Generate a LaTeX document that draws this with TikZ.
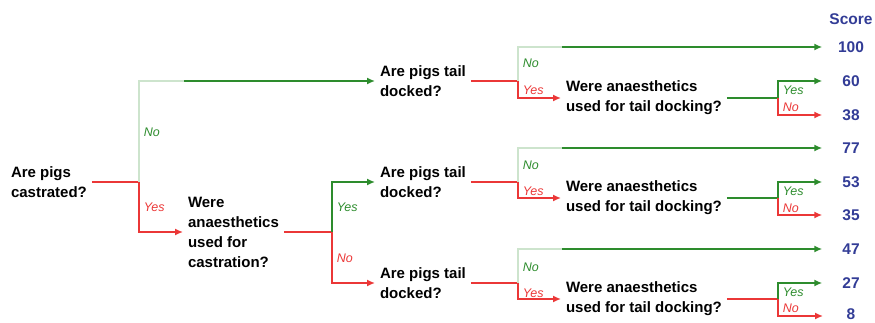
\documentclass[tikz,border=0pt]{standalone}
\usepackage{fontspec}
\setmainfont{Liberation Sans}
\usetikzlibrary{arrows.meta,positioning}
\definecolor{yesgreen}{RGB}{45,140,45}
\definecolor{nored}{RGB}{235,55,55}
\definecolor{faintgreen}{RGB}{205,228,205}
\definecolor{scoreblue}{RGB}{50,60,150}
\tikzset{question/.style={
    anchor=west,align=left,inner sep=2pt,outer sep=3pt,
    font=\fontsize{15}{20}\selectfont\bfseries}}
\tikzset{score/.style={
    minimum width=56pt,inner sep=0pt,text=scoreblue,
    font=\fontsize{15.5}{18}\selectfont\bfseries}}
\tikzset{greentext/.style={anchor=west,inner sep=0pt,text=yesgreen,font=\fontsize{12.5}{14}\selectfont\itshape},
    redtext/.style={anchor=west,inner sep=0pt,text=nored,font=\fontsize{12.5}{14}\selectfont\itshape}}
\tikzset{yesline/.style={draw=yesgreen},noline/.style={draw=nored},faintline/.style={draw=faintgreen},
    arrowed/.style={-{Latex[length=8pt,width=7pt]}}}
\tikzset{every picture/.style={line width=1.5pt}}
\begin{document}
\begin{tikzpicture}[x=1pt,y=-1pt]
\useasboundingbox (0,0) rectangle (875,322);

  \node (castrated)  [question] at (6,182)   {Are pigs\\castrated?};
  \node (castanaes)  [question] at (183,232) {Were\\anaesthetics\\used for\\castration?};
  \node (docked1)    [question] at (375,81)  {Are pigs tail\\docked?};
  \node (docked2)    [question] at (375,182) {Are pigs tail\\docked?};
  \node (docked3)    [question] at (375,283) {Are pigs tail\\docked?};
  \node (dockanaes1) [question] at (561,98)  {Were anaesthetics\\used for tail docking?};
  \node (dockanaes2) [question] at (561,198) {Were anaesthetics\\used for tail docking?};
  \node (dockanaes3) [question] at (561,299) {Were anaesthetics\\used for tail docking?};

  \node (scorehead) [score] at (851,19)  {Score};
  \node (s100)      [score] at (851,47)  {100};
  \node (s60)       [score] at (851,81)  {60};
  \node (s38)       [score] at (851,115) {38};
  \node (s77)       [score] at (851,148) {77};
  \node (s53)       [score] at (851,182) {53};
  \node (s35)       [score] at (851,215) {35};
  \node (s47)       [score] at (851,249) {47};
  \node (s27)       [score] at (851,283) {27};
  \node (s8)        [score] at (851,314) {8};

  \coordinate (j1) at (139,182); \coordinate (k1) at (184,81);
  \coordinate (j2) at (332,232);
  \coordinate (j3) at (518,81);  \coordinate (k3) at (562,47);
  \coordinate (j4) at (518,182); \coordinate (k4) at (562,148);
  \coordinate (j5) at (518,283); \coordinate (k5) at (562,249);
  \coordinate (j6) at (778,98);
  \coordinate (j7) at (778,198);
  \coordinate (j8) at (778,299); \coordinate (e8) at (823,316);

\draw [noline] (castrated) -- (j1);
\draw [faintline] (j1) |- (k1);
\draw [yesline,arrowed] (k1) -- (docked1);
\draw [noline,arrowed] (j1) |- (castanaes);

\draw [noline] (castanaes) -- (j2);
\draw [yesline,arrowed] (j2) |- (docked2);
\draw [noline,arrowed] (j2) |- (docked3);

\draw [noline] (docked1) -- (j3);
\draw [faintline] (j3) |- (k3);
\draw [yesline,arrowed] (k3) -- (s100);
\draw [noline,arrowed] (j3) |- (dockanaes1);

\draw [noline] (docked2) -- (j4);
\draw [faintline] (j4) |- (k4);
\draw [yesline,arrowed] (k4) -- (s77);
\draw [noline,arrowed] (j4) |- (dockanaes2);

\draw [noline] (docked3) -- (j5);
\draw [faintline] (j5) |- (k5);
\draw [yesline,arrowed] (k5) -- (s47);
\draw [noline,arrowed] (j5) |- (dockanaes3);

\draw [yesline] (dockanaes1) -- (j6);
\draw [yesline,arrowed] (j6) |- (s60);
\draw [noline,arrowed] (j6) |- (s38);

\draw [yesline] (dockanaes2) -- (j7);
\draw [yesline,arrowed] (j7) |- (s53);
\draw [noline,arrowed] (j7) |- (s35);

\draw [noline] (dockanaes3) -- (j8);
\draw [yesline,arrowed] (j8) |- (s27);
\draw [noline,arrowed] (j8) |- (e8);

  \node (no1)  [greentext] at (143,132) {No};
  \node (yes1) [redtext]   at (143,207) {Yes};
  \node (yes2) [greentext] at (336,207) {Yes};
  \node (no2)  [redtext]   at (336,258) {No};
  \node (no3)  [greentext] at (522,63)  {No};
  \node (yes3) [redtext]   at (522,90)  {Yes};
  \node (no4)  [greentext] at (522,165) {No};
  \node (yes4) [redtext]   at (522,191) {Yes};
  \node (no5)  [greentext] at (522,267) {No};
  \node (yes5) [redtext]   at (522,293) {Yes};
  \node (yes6) [greentext] at (782,90)  {Yes};
  \node (no6)  [redtext]   at (782,107) {No};
  \node (yes7) [greentext] at (782,191) {Yes};
  \node (no7)  [redtext]   at (782,208) {No};
  \node (yes8) [greentext] at (782,292) {Yes};
  \node (no8)  [redtext]   at (782,308) {No};

\end{tikzpicture}
\end{document}
